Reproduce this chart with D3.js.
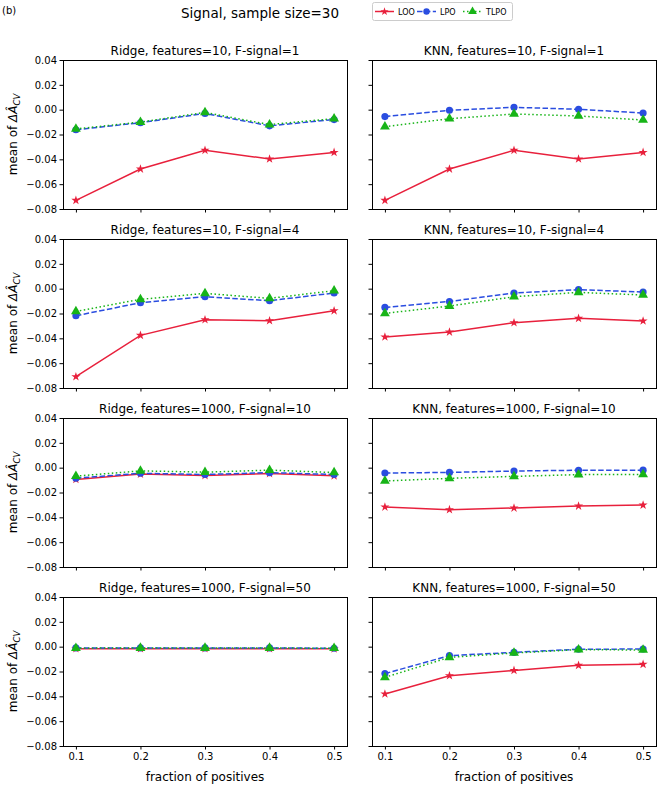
<!DOCTYPE html>
<html><head><meta charset="utf-8">
<script src="https://cdn.jsdelivr.net/npm/d3@7"></script>
<style>body{margin:0;background:#fff}svg{display:block;font-family:"DejaVu Sans",sans-serif}</style>
</head><body>
<script>
const fractions = [0.1, 0.2, 0.3, 0.4, 0.5];
const yTicks = [0.04, 0.02, 0.00, -0.02, -0.04, -0.06, -0.08];
const methods = ["LOO", "LPO", "TLPO"];
const panelTitles = [
  "Ridge, features=10, F-signal=1", "KNN, features=10, F-signal=1",
  "Ridge, features=10, F-signal=4", "KNN, features=10, F-signal=4",
  "Ridge, features=1000, F-signal=10", "KNN, features=1000, F-signal=10",
  "Ridge, features=1000, F-signal=50", "KNN, features=1000, F-signal=50"
];
const LOO = [
  [-0.0730, -0.0478, -0.0327, -0.0397, -0.0344],
  [-0.0730, -0.0478, -0.0327, -0.0397, -0.0344],
  [-0.0709, -0.0376, -0.0250, -0.0258, -0.0178],
  [-0.0389, -0.0349, -0.0274, -0.0239, -0.0260],
  [-0.0095, -0.0052, -0.0063, -0.0047, -0.0066],
  [-0.0317, -0.0338, -0.0325, -0.0309, -0.0301],
  [-0.0016, -0.0016, -0.0016, -0.0016, -0.0017],
  [-0.0381, -0.0234, -0.0191, -0.0150, -0.0142]
];
const LPO = [
  [-0.0162, -0.0105, -0.0030, -0.0130, -0.0080],
  [-0.0056, -0.0005, 0.0019, 0.0003, -0.0027],
  [-0.0218, -0.0113, -0.0065, -0.0097, -0.0035],
  [-0.0151, -0.0103, -0.0035, -0.0008, -0.0027],
  [-0.0085, -0.0045, -0.0055, -0.0040, -0.0055],
  [-0.0043, -0.0038, -0.0027, -0.0021, -0.0020],
  [-0.0010, -0.0010, -0.0010, -0.0010, -0.0013],
  [-0.0217, -0.0072, -0.0046, -0.0021, -0.0019]
];
const TLPO = [
  [-0.0155, -0.0100, -0.0022, -0.0120, -0.0072],
  [-0.0137, -0.0073, -0.0035, -0.0051, -0.0083],
  [-0.0183, -0.0086, -0.0038, -0.0078, -0.0016],
  [-0.0199, -0.0140, -0.0065, -0.0030, -0.0051],
  [-0.0068, -0.0026, -0.0036, -0.0020, -0.0039],
  [-0.0107, -0.0086, -0.0070, -0.0056, -0.0054],
  [-0.0012, -0.0011, -0.0011, -0.0011, -0.0013],
  [-0.0247, -0.0086, -0.0051, -0.0024, -0.0027]
];
const seriesData = {LOO, LPO, TLPO};

const W = 660, H = 786;
const colLeft = [63, 372], panelW = 284;
const rowTop = [60, 239, 418, 597], panelH = 149;
const style = {
  LOO: {color: "#e8203c", dash: null, sym: d3.symbolStar, size: 26},
  LPO: {color: "#2a4de0", dash: "5.5,2.4", sym: d3.symbolCircle, size: 40},
  TLPO: {color: "#17b417", dash: "1.5,2.5", sym: d3.symbolTriangle, size: 42}
};

const svg = d3.select("body").append("svg").attr("width", W).attr("height", H);
const fmt = v => (v < 0 ? "\u2212" : "") + Math.abs(v).toFixed(2);

svg.append("text").attr("x", 2).attr("y", 14).attr("font-size", 10).text("(b)");
svg.append("text").attr("x", 260).attr("y", 18).attr("font-size", 13.5).attr("text-anchor", "middle").text("Signal, sample size=30");

panelTitles.forEach((title, i) => {
  const r = Math.floor(i / 2), c = i % 2;
  const x0 = colLeft[c], y0 = rowTop[r];
  const x = d3.scaleLinear().domain([0.08, 0.52]).range([x0, x0 + panelW]);
  const y = d3.scaleLinear().domain([-0.08, 0.04]).range([y0 + panelH, y0]);
  const g = svg.append("g");

  const xAxis = d3.axisBottom(x).tickValues(fractions).tickSize(3.5).tickPadding(3)
    .tickFormat(r === 3 ? d3.format(".1f") : "");
  const gx = g.append("g").attr("transform", `translate(0,${y0 + panelH})`).call(xAxis);
  gx.select(".domain").remove();
  gx.selectAll("text").attr("font-size", 10).attr("font-family", "DejaVu Sans").attr("fill", "#000");

  const yAxis = d3.axisLeft(y).tickValues(yTicks).tickSize(3.5).tickPadding(2.5)
    .tickFormat(c === 0 ? fmt : "");
  const gy = g.append("g").attr("transform", `translate(${x0},0)`).call(yAxis);
  gy.select(".domain").remove();
  gy.selectAll("text").attr("font-size", 10).attr("font-family", "DejaVu Sans").attr("fill", "#000");

  g.append("rect").attr("x", x0 + 0.5).attr("y", y0 + 0.5).attr("width", panelW).attr("height", panelH)
    .attr("fill", "none").attr("stroke", "#000").attr("stroke-width", 1);

  g.append("text").attr("x", x0 + panelW / 2).attr("y", y0 - 5).attr("text-anchor", "middle")
    .attr("font-size", 12).text(title);

  methods.forEach(m => {
    const vals = seriesData[m][i];
    const st = style[m];
    const pts = fractions.map((f, k) => [f, vals[k]]);
    g.append("path").datum(pts)
      .attr("d", d3.line().x(d => x(d[0])).y(d => y(d[1])))
      .attr("fill", "none").attr("stroke", st.color).attr("stroke-width", 1.5)
      .attr("stroke-dasharray", st.dash);
    g.selectAll(null).data(pts).enter().append("path")
      .attr("transform", d => `translate(${x(d[0])},${y(d[1])})`)
      .attr("d", d3.symbol().type(st.sym).size(st.size))
      .attr("fill", st.color);
  });

  if (c === 0) {
    const t = g.append("text").attr("font-size", 12).attr("text-anchor", "middle")
      .attr("transform", `translate(17,${y0 + panelH / 2}) rotate(-90)`);
    t.append("tspan").text("mean of ");
    t.append("tspan").attr("font-style", "italic").text("\u0394\u00C2");
    t.append("tspan").attr("font-style", "italic").attr("font-size", 8.5).attr("dy", 3).text("CV");
  }
  if (r === 3) {
    g.append("text").attr("x", x0 + panelW / 2).attr("y", 781).attr("text-anchor", "middle")
      .attr("font-size", 12).text("fraction of positives");
  }
});

// legend
const lg = svg.append("g");
lg.append("rect").attr("x", 372.5).attr("y", 2.5).attr("width", 140).attr("height", 18).attr("rx", 2)
  .attr("fill", "#fff").attr("stroke", "#ccc");
const legX = [375, 417, 463];
methods.forEach((m, k) => {
  const st = style[m];
  const lx = legX[k], ly = 11.5;
  lg.append("line").attr("x1", lx).attr("x2", lx + 19).attr("y1", ly).attr("y2", ly)
    .attr("stroke", st.color).attr("stroke-width", 1.5).attr("stroke-dasharray", st.dash);
  lg.append("path").attr("transform", `translate(${lx + 9.5},${ly})`)
    .attr("d", d3.symbol().type(st.sym).size(st.size * 0.8)).attr("fill", st.color);
  lg.append("text").attr("x", lx + 23).attr("y", ly + 3).attr("font-size", 8).text(m);
});
</script>
</body></html>
